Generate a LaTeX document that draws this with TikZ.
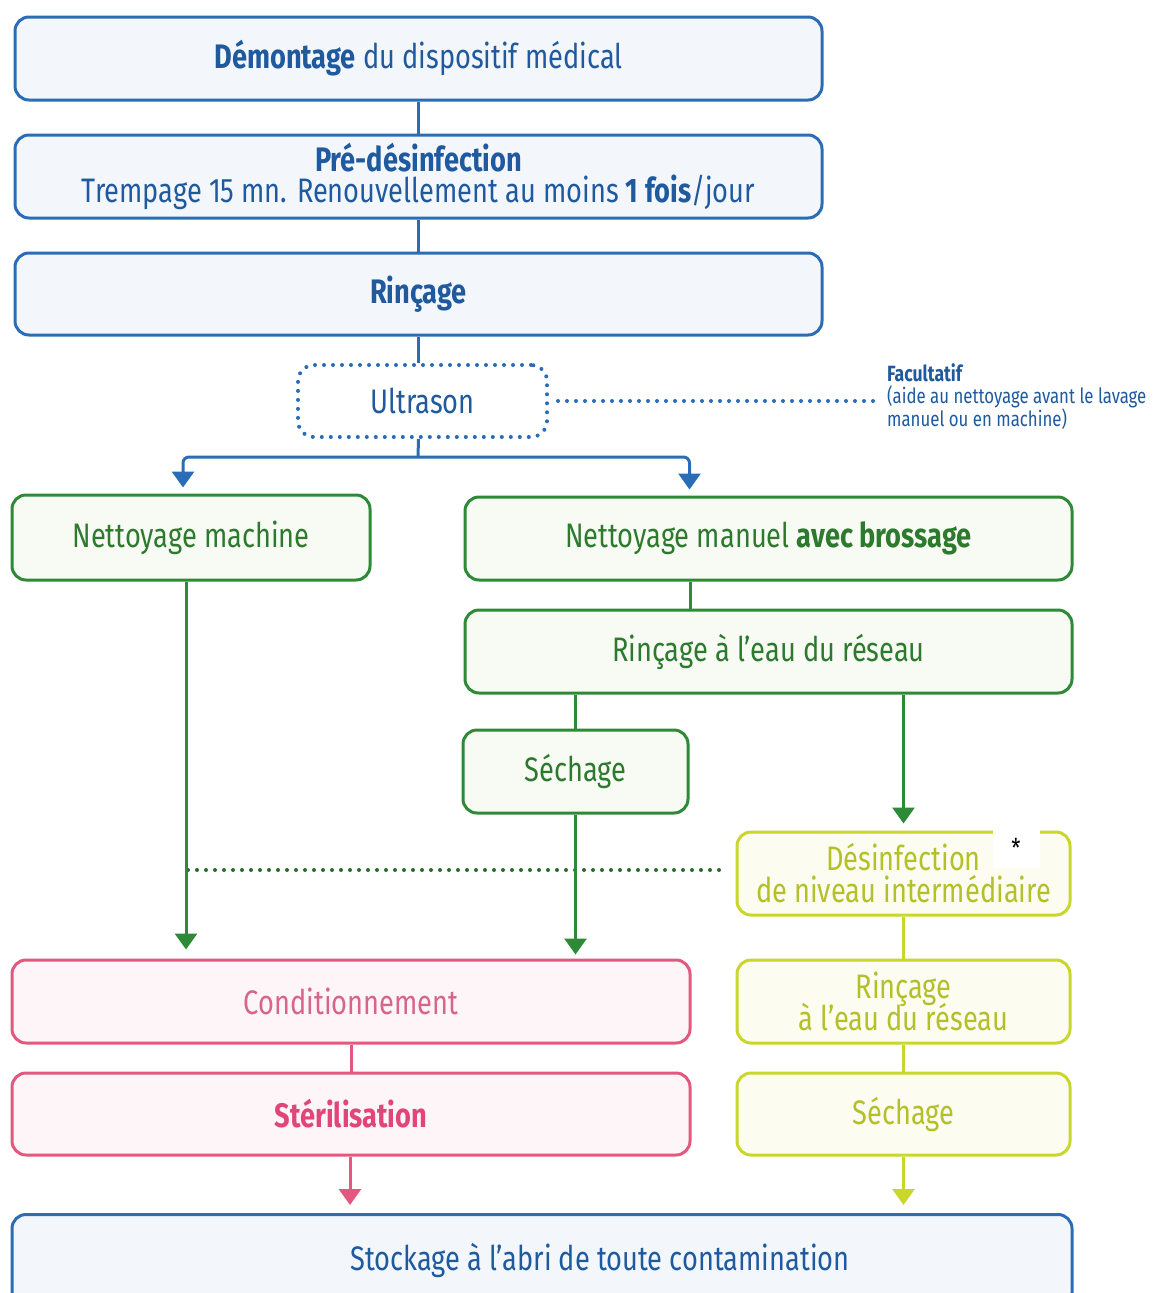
\documentclass[tikz,border=0pt]{standalone}
\usepackage{fontspec}
\setmainfont{Fira Sans}[FakeStretch=0.8]
\usetikzlibrary{arrows.meta,calc}
\definecolor{bl}{HTML}{2A6CB6}
\definecolor{bltext}{HTML}{1F5A9E}
\definecolor{blfill}{HTML}{F3F6FB}
\definecolor{gr}{HTML}{2E8A36}
\definecolor{grtext}{HTML}{2D7A2E}
\definecolor{grfill}{HTML}{F7FBF4}
\definecolor{ye}{HTML}{C9D62C}
\definecolor{yetext}{HTML}{B4C02A}
\definecolor{yefill}{HTML}{FCFDF0}
\definecolor{pk}{HTML}{E2587F}
\definecolor{pktext}{HTML}{D8648A}
\definecolor{pkbold}{HTML}{E04679}
\definecolor{pkfill}{HTML}{FDF5F8}
\tikzset{
  box/.style={rounded corners=14pt, line width=3pt, inner sep=0pt, align=center,
    font=\fontsize{34}{37}\selectfont},
  bluebox/.style={box, draw=bl, fill=blfill, text=bltext},
  greenbox/.style={box, draw=gr, fill=grfill, text=grtext},
  yellowbox/.style={box, draw=ye, fill=yefill, text=yetext},
  pinkbox/.style={box, draw=pk, fill=pkfill, text=pktext},
  conn/.style={line width=3pt},
  arr/.style={conn, -{Triangle[width=22pt,length=16pt]}},
  dotline/.style={line width=4pt, line cap=round, dash pattern=on 0pt off 9pt},
}
\begin{document}
\begin{tikzpicture}[x=1pt,y=-1pt]
\useasboundingbox[fill=white] (0,0) rectangle (1162,1293);
% blue top
\node[bluebox, minimum width=807, minimum height=83] (demo) at (418.5,58.5)
  {\bfseries Démontage\mdseries{} du dispositif médical};
\node[bluebox, minimum width=807, minimum height=83] (pre) at (418.5,176.5)
  {\bfseries Pré-désinfection\\[-6pt]Trempage 15 mn. Renouvellement au moins \textbf{1 fois}/jour};
\node[bluebox, minimum width=807, minimum height=82] (rin) at (418.5,294)
  {\bfseries Rinçage};
\node[box, draw=bl, fill=white, text=bltext, dotline, rounded corners=16pt,
  minimum width=249, minimum height=72] (ult) at (422.5,401) {Ultrason};
\node[anchor=north west, align=left, text=bltext, inner sep=0pt,
  font=\fontsize{21}{22.5}\selectfont] (fac) at (887,363)
  {{\bfseries\fontsize{22}{22.5}\selectfont Facultatif}\\(aide au nettoyage avant le lavage\\manuel ou en machine)};
% green
\node[greenbox, minimum width=358, minimum height=85] (nm) at (191,537.5) {Nettoyage machine};
\node[greenbox, minimum width=607, minimum height=83] (man) at (768.5,538.5)
  {Nettoyage manuel \textbf{avec brossage}};
\node[greenbox, minimum width=607, minimum height=83] (rr) at (768.5,651.5)
  {Rinçage à l'eau du réseau};
\node[greenbox, minimum width=225, minimum height=83] (sech) at (575.5,771.5) {Séchage};
% yellow
\node[yellowbox, minimum width=333, minimum height=83] (desinf) at (903.5,873.5)
  {Désinfection\\[-5pt]de niveau intermédiaire};
\node[fill=white, inner sep=0pt, minimum width=47, minimum height=40,
  font=\rmfamily\fontsize{26}{26}\selectfont] (ast) at (1016,848) {*};
\node[yellowbox, minimum width=333, minimum height=83] (yr) at (903.5,1001.5)
  {Rinçage\\[-5pt]à l'eau du réseau};
\node[yellowbox, minimum width=333, minimum height=82] (ys) at (903.5,1114) {Séchage};
% pink
\node[pinkbox, minimum width=678, minimum height=83] (cond) at (351,1001.5) {Conditionnement};
\node[pinkbox, minimum width=678, minimum height=82, text=pkbold] (ster) at (351,1114)
  {\bfseries Stérilisation};
% storage
\node[bluebox, minimum width=1060, minimum height=92, anchor=north] (stock) at (542,1213)
  {\hspace*{116pt}Stockage à l'abri de toute contamination};
% blue connectors
\draw[conn, bl] (demo) -- (pre);
\draw[conn, bl] (pre) -- (rin);
\draw[conn, bl] (rin.south) -- (rin.south |- ult.north);
\coordinate (split) at (418,457);
\draw[conn, bl] (rin.south |- ult.south) -- (split);
\draw[arr, bl, rounded corners=6pt, shorten >=6pt] (split) -| ([xshift=-8]nm.north);
\draw[arr, bl, rounded corners=6pt, shorten >=6pt] (split) -| ([xshift=-79]man.north);
\draw[dotline, bl, shorten <=9pt, shorten >=14pt] (ult.east) -- (ult.east -| fac.west);
% green connectors
\draw[dotline, gr!80!black, shorten >=8pt] ([xshift=-3]nm.south |- 0,870) -- (desinf.west |- 0,870);
\draw[conn, gr] ([xshift=-78]man.south) -- ([xshift=-78]rr.north);
\draw[conn, gr] (sech.north |- rr.south) -- (sech.north);
\draw[arr, gr, shorten >=7pt] (rr.south -| desinf.north) -- (desinf.north);
\draw[arr, gr, shorten >=9pt] ([xshift=-5]nm.south) -- ([xshift=-5]nm.south |- cond.north);
\draw[arr, gr, shorten >=4pt] (sech.south) -- (sech.south |- cond.north);
% yellow connectors
\draw[conn, ye] (desinf) -- (yr);
\draw[conn, ye] (yr) -- (ys);
\draw[arr, ye, shorten >=8pt] (ys.south) -- (ys.south |- stock.north);
% pink connectors
\draw[conn, pk] (cond) -- (ster);
\draw[arr, pk, shorten >=8pt] ([xshift=-1]ster.south) -- ([xshift=-1]ster.south |- stock.north);
\end{tikzpicture}
\end{document}
